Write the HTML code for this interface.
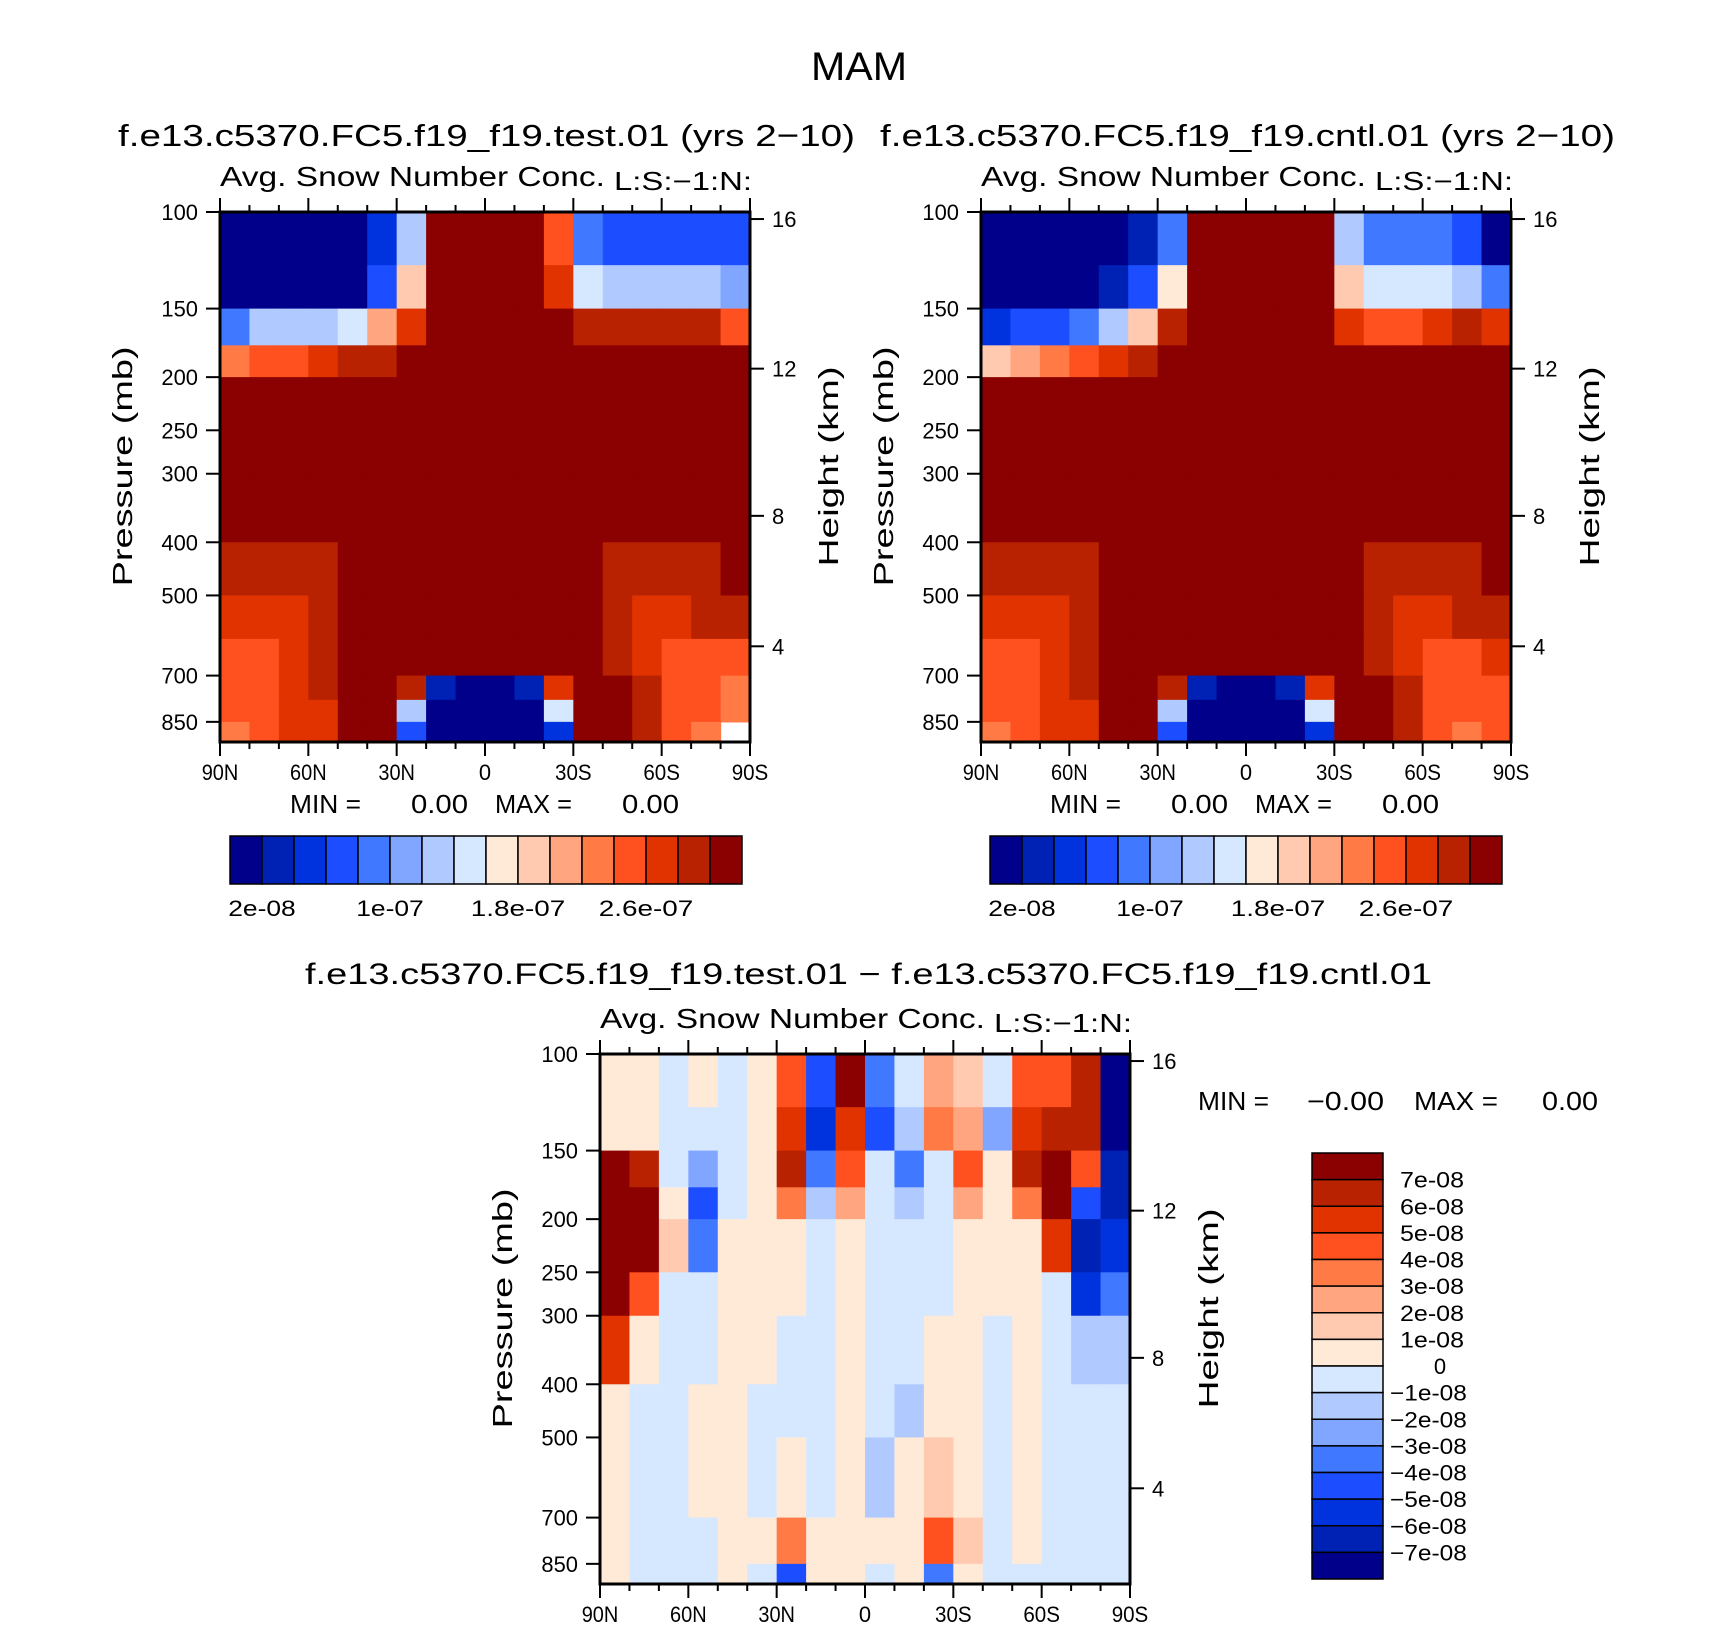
<!DOCTYPE html>
<html><head><meta charset="utf-8">
<style>
html,body{margin:0;padding:0;background:#fff;}
svg{display:block;font-family:"Liberation Sans","DejaVu Sans",sans-serif;}
text{fill:#000;}
</style></head>
<body>
<svg id="fig" width="1710" height="1626" viewBox="0 0 1710 1626" xmlns="http://www.w3.org/2000/svg">
<text x="811" y="80" font-size="40" textLength="96" lengthAdjust="spacingAndGlyphs">MAM</text>
<text x="118" y="146" font-size="31" textLength="737" lengthAdjust="spacingAndGlyphs">f.e13.c5370.FC5.f19_f19.test.01 (yrs 2−10)</text>
<text x="880" y="146" font-size="31" textLength="735" lengthAdjust="spacingAndGlyphs">f.e13.c5370.FC5.f19_f19.cntl.01 (yrs 2−10)</text>
<text x="305" y="984" font-size="30" textLength="1127" lengthAdjust="spacingAndGlyphs">f.e13.c5370.FC5.f19_f19.test.01 − f.e13.c5370.FC5.f19_f19.cntl.01</text>
<g id="p1"></g>
<g id="p2"></g>
<g id="p3"></g>
<g id="cb"></g>
</svg>
<script>
// ---- data ----
const lats = [90,80,70,60,50,40,30,20,10,0,-10,-20,-30,-40,-50,-60,-70,-80,-90];
const pEdgesAbs = [100,125,150,175,200,300,400,500,600,700,775,850,925];
const pEdgesDiff = [100,125,150,175,200,250,300,400,500,700,850,925];
const absLevels = ["2e-08","1e-07","1.8e-07","2.6e-07"];
const diffLevels = ["7e-08","6e-08","5e-08","4e-08","3e-08","2e-08","1e-08","0","−1e-08","−2e-08","−3e-08","−4e-08","−5e-08","−6e-08","−7e-08"];
const pTicks = [100,150,200,250,300,400,500,700,850];
const hTicks = [16,12,8,4];
const hTickPressure = [103,193,358,619];
const latTickLabels = ["90N","60N","30N","0","30S","60S","90S"];
// class-index values (0..15), -1 = missing
const testVals = [
[0,0,0,0,0,2,6,15,15,15,15,12,4,3,3,3,3,3],
[0,0,0,0,0,3,9,15,15,15,15,13,7,6,6,6,6,5],
[4,6,6,6,7,10,13,15,15,15,15,15,14,14,14,14,14,12],
[11,12,12,13,14,14,15,15,15,15,15,15,15,15,15,15,15,15],
[15,15,15,15,15,15,15,15,15,15,15,15,15,15,15,15,15,15],
[15,15,15,15,15,15,15,15,15,15,15,15,15,15,15,15,15,15],
[14,14,14,14,15,15,15,15,15,15,15,15,15,14,14,14,14,15],
[13,13,13,14,15,15,15,15,15,15,15,15,15,14,13,13,14,14],
[12,12,13,14,15,15,15,15,15,15,15,15,15,14,13,12,12,12],
[12,12,13,14,15,15,14,1,0,0,1,13,15,15,14,12,12,11],
[12,12,13,13,15,15,6,0,0,0,0,7,15,15,14,12,12,11],
[11,12,13,13,15,15,3,0,0,0,0,2,15,15,14,12,11,-1]];
const cntlVals = [
[0,0,0,0,0,1,4,15,15,15,15,15,6,4,4,4,3,0],
[0,0,0,0,1,3,8,15,15,15,15,15,9,7,7,7,6,4],
[2,3,3,4,6,9,14,15,15,15,15,15,13,12,12,13,14,13],
[9,10,11,12,13,14,15,15,15,15,15,15,15,15,15,15,15,15],
[15,15,15,15,15,15,15,15,15,15,15,15,15,15,15,15,15,15],
[15,15,15,15,15,15,15,15,15,15,15,15,15,15,15,15,15,15],
[14,14,14,14,15,15,15,15,15,15,15,15,15,14,14,14,14,15],
[13,13,13,14,15,15,15,15,15,15,15,15,15,14,13,13,14,14],
[12,12,13,14,15,15,15,15,15,15,15,15,15,14,13,12,12,13],
[12,12,13,14,15,15,14,1,0,0,1,13,15,15,14,12,12,12],
[12,12,13,13,15,15,6,0,0,0,0,7,15,15,14,12,12,12],
[11,12,13,13,15,15,3,0,0,0,0,2,15,15,14,12,11,12]];
const diffVals = [
[8,8,7,8,7,8,12,3,15,4,7,10,9,7,12,12,14,0],
[8,8,7,7,7,8,13,2,13,3,6,11,10,5,13,14,14,0],
[15,14,7,5,7,8,14,4,12,7,4,7,12,8,14,15,12,1],
[15,15,8,3,7,8,11,6,10,7,6,7,10,8,11,15,3,1],
[15,15,9,4,8,8,8,7,8,7,7,7,8,8,8,13,1,2],
[15,12,7,7,8,8,8,7,8,7,7,7,8,8,8,7,2,4],
[13,8,7,7,8,8,7,7,8,7,7,8,8,7,8,7,6,6],
[8,7,7,8,8,7,7,7,8,7,6,8,8,7,8,7,7,7],
[8,7,7,8,8,7,8,7,8,6,8,9,8,7,8,7,7,7],
[8,7,7,7,8,8,11,8,8,8,8,12,9,7,8,7,7,7],
[8,7,7,7,8,7,3,8,8,7,8,4,8,7,7,7,7,7]];
const palette = ["#00008a","#0022b4","#0033dd","#1c4dff","#4078ff","#80a6ff","#b0caff","#d6e8ff","#ffead8","#ffcab0","#ffa57f","#ff7a45","#ff5020","#e03300","#b82200","#8b0000"];

const NS="http://www.w3.org/2000/svg";
function mk(tag, parent, attrs, txt){const e=document.createElementNS(NS,tag);for(const k in attrs)e.setAttribute(k,attrs[k]);if(txt!==undefined)e.textContent=txt;parent.appendChild(e);return e;}
const CW=12.2;

function drawPanel(g, x0, y0, vals, pEdges){
  const W=530,H=530,pmax=925;
  const xs = lat => x0 + (90-lat)/180*W;
  const ys = p => y0 + Math.log10(p/100)/Math.log10(pmax/100)*H;
  for(let r=0;r<vals.length;r++){
    for(let c=0;c<vals[r].length;c++){
      const v=vals[r][c]; if(v<0) continue;
      const x1=xs(lats[c]), x2=xs(lats[c+1]), y1=ys(pEdges[r]), y2=ys(pEdges[r+1]);
      const rc=mk('rect',g,{x:x1,y:y1,width:x2-x1+0.6,height:y2-y1+0.6,fill:palette[v]});
      
      
    }
  }
  const fr=mk('rect',g,{x:x0,y:y0,width:W,height:H,fill:'none',stroke:'#000','stroke-width':3});
  
  
  for(let lat=90;lat>=-90;lat-=10){
    const major = lat%30===0; const L = major?14:7;
    mk('line',g,{x1:xs(lat),x2:xs(lat),y1:y0+H,y2:y0+H+L,stroke:'#000','stroke-width':2});
    mk('line',g,{x1:xs(lat),x2:xs(lat),y1:y0,y2:y0-L,stroke:'#000','stroke-width':2});
  }
  latTickLabels.forEach((t,i)=>{
    const lt=mk('text',g,{x:xs(90-i*30),y:y0+H+38,'font-size':22,'text-anchor':'middle',textLength:t.length*CW,lengthAdjust:'spacingAndGlyphs'},t);
    
    
  });
  pTicks.forEach(p=>{
    mk('line',g,{x1:x0-14,x2:x0,y1:ys(p),y2:ys(p),stroke:'#000','stroke-width':2});
    const lt=mk('text',g,{x:x0-22,y:ys(p)+8,'font-size':22,'text-anchor':'end',textLength:3*CW,lengthAdjust:'spacingAndGlyphs'},String(p));
    
    
  });
  hTicks.forEach((h,i)=>{
    const y = ys(hTickPressure[i]);
    mk('line',g,{x1:x0+W,x2:x0+W+14,y1:y,y2:y,stroke:'#000','stroke-width':2});
    const lt=mk('text',g,{x:x0+W+22,y:y+8,'font-size':22},String(h));
    
    
  });
  const a=mk('text',g,{x:x0,y:y0-26,'font-size':28,textLength:385,lengthAdjust:'spacingAndGlyphs'},'Avg. Snow Number Conc.');
  
  
  const b=mk('text',g,{x:x0+W-136,y:y0-22,'font-size':26,textLength:138,lengthAdjust:'spacingAndGlyphs'},'L:S:−1:N:');
  
  
  const yt=mk('text',g,{transform:`translate(${x0-88},${y0+H*0.48}) rotate(-90)`,'font-size':28,'text-anchor':'middle',textLength:240,lengthAdjust:'spacingAndGlyphs'},'Pressure  (mb)');
  
  
  const ht=mk('text',g,{transform:`translate(${x0+W+88},${y0+H*0.48}) rotate(-90)`,'font-size':28,'text-anchor':'middle',textLength:200,lengthAdjust:'spacingAndGlyphs'},'Height  (km)');
  
  
}
drawPanel(document.getElementById('p1'),220,212,testVals,pEdgesAbs);
drawPanel(document.getElementById('p2'),981,212,cntlVals,pEdgesAbs);
drawPanel(document.getElementById('p3'),600,1054,diffVals,pEdgesDiff);

const cb=document.getElementById('cb');
function minmax(x,y,parts){
  parts.forEach(pt=>{
    const t=mk('text',cb,{x:x+pt[1],y:y,'font-size':26,textLength:pt[2],lengthAdjust:'spacingAndGlyphs'},pt[0]);
    
    
  });
}
function hbar(x0){
  const w=512/16;
  palette.forEach((c,i)=>{
    const r=mk('rect',cb,{x:x0+i*w,y:836,width:w,height:48,fill:c,stroke:'#000','stroke-width':1.5});
    
    
  });
  absLevels.forEach((t,i)=>{
    const l=mk('text',cb,{x:x0+(1+4*i)*w,y:916,'font-size':22,'text-anchor':'middle',textLength:t.length*13.5,lengthAdjust:'spacingAndGlyphs'},t);
    
    
  });
}
hbar(230); hbar(990);
const absMM=[['MIN  =',0,71],['0.00',121,57],['MAX  =',205,77],['0.00',332,57]];
minmax(290,813,absMM);
minmax(1050,813,absMM);
minmax(1198,1110,[['MIN  =',0,71],['−0.00',109,77],['MAX  =',216,84],['0.00',344,56]]);
(function(){
  const x0=1312,y0=1153,h=426/16;
  for(let i=0;i<16;i++){
    const r=mk('rect',cb,{x:x0,y:y0+i*h,width:71,height:h,fill:palette[15-i],stroke:'#000','stroke-width':1.5});
    
    
  }
  diffLevels.forEach((t,i)=>{
    const neg=t.startsWith('−'), zero=t==='0';
    const l=mk('text',cb,{x:zero?1440:(neg?1390:1400),y:y0+(i+1)*h+8,'font-size':22,'text-anchor':zero?'middle':'start'},t);
    if(!zero){l.setAttribute('textLength',t.length*12.8);l.setAttribute('lengthAdjust','spacingAndGlyphs');}
    
    
  });
})();
</script>
</body></html>
